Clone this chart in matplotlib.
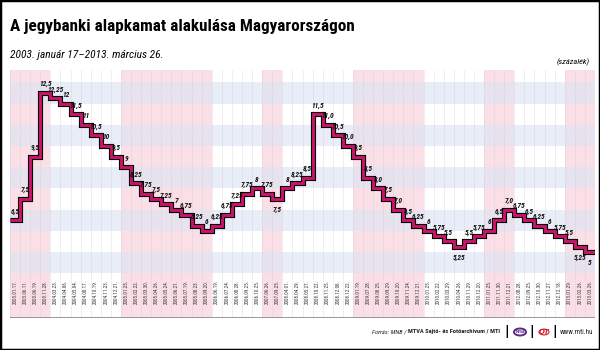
import numpy as np
import matplotlib
matplotlib.use('Agg')
import matplotlib.pyplot as plt
import matplotlib.patheffects as pe
from matplotlib.patches import Circle, Rectangle

NARROW = ['Liberation Sans Narrow', 'Roboto Condensed', 'Liberation Sans', 'DejaVu Sans']

# alapkamat-döntések dátumai és az új kamatszintek
dates = ['2003.01.17.', '2003.06.11.', '2003.06.19.', '2003.11.28.',
         '2004.03.23.', '2004.04.06.', '2004.05.04.', '2004.08.17.', '2004.10.19.', '2004.11.23.', '2004.12.21.',
         '2005.01.25.', '2005.02.22.', '2005.03.30.', '2005.04.26.', '2005.05.24.', '2005.06.21.', '2005.07.19.',
         '2005.08.23.', '2005.09.20.',
         '2006.06.19.', '2006.07.24.', '2006.08.28.', '2006.09.25.', '2006.10.25.',
         '2007.06.26.', '2007.09.25.',
         '2008.04.01.', '2008.04.29.', '2008.05.27.', '2008.10.22.', '2008.11.25.', '2008.12.08.', '2008.12.22.',
         '2009.01.19.', '2009.07.28.', '2009.08.25.', '2009.09.29.', '2009.10.20.', '2009.11.24.', '2009.12.21.',
         '2010.01.25.', '2010.02.22.', '2010.03.29.', '2010.04.26.', '2010.11.29.', '2010.12.20.',
         '2011.01.25.', '2011.11.30.', '2011.12.21.',
         '2012.08.28.', '2012.09.25.', '2012.10.30.', '2012.11.27.', '2012.12.18.',
         '2013.01.29.', '2013.02.26.', '2013.03.26.']

rates = [6.5, 7.5, 9.5, 12.5,
         12.25, 12, 11.5, 11, 10.5, 10, 9.5,
         9, 8.25, 7.75, 7.5, 7.25, 7, 6.75, 6.25, 6,
         6.25, 6.75, 7.25, 7.75, 8,
         7.75, 7.5,
         8, 8.25, 8.5, 11.5, 11.0, 10.5, 10.0,
         9.5, 8.5, 8.0, 7.5, 7.0, 6.5, 6.25,
         6, 5.75, 5.5, 5.25, 5.5, 5.75,
         6, 6.5, 7.0,
         6.75, 6.5, 6.25, 6, 5.75,
         5.5, 5.25, 5]

# ezeknél a feliratnál kiírjuk a ",0"-t
keep_zero = {31, 33, 36, 38, 49}
# ezek a feliratok a vonal alá kerülnek
below = {26, 44, 56, 57}


def fmt(i, v):
    s = f'{v:.2f}'.rstrip('0').rstrip('.')
    if i in keep_zero and '.' not in s:
        s += '.0'
    return s.replace('.', ',')


n = len(rates)
x = np.arange(n)

fig = plt.figure(figsize=(6, 3.5), dpi=100)
fig.patch.set_facecolor('white')
ax = fig.add_axes([10 / 600, 32 / 350, 585 / 600, 248 / 350])
ax.set_xlim(-0.5, n - 0.5)
ax.set_ylim(1.887, 13.585)
ax.axis('off')

# évenkénti függőleges sávok
years = [d[:4] for d in dates]
for k, yr in enumerate(sorted(set(years))):
    idx = [i for i, y in enumerate(years) if y == yr]
    if k % 2 == 0:
        ax.axvspan(idx[0] - 0.5, idx[-1] + 0.5, color='#fbdfe6', lw=0, zorder=0)

# vízszintes sávok
for lo in [4, 6, 8, 10, 12]:
    ax.axhspan(lo, lo + 1, color='#dce4f3', alpha=0.65, lw=0, zorder=0.5)

for b in np.arange(n + 1) - 0.5:
    ax.axvline(b, color='#c9c9d2', lw=0.4, ls=(0, (1.5, 1.5)), zorder=1)

ax.axhline(1.887, color='#8a8a8a', lw=1.2, zorder=2)

edges = np.arange(n + 1) - 0.5
xs = np.repeat(edges, 2)[1:-1]
ys = np.repeat(rates, 2)
ax.plot(xs, ys, color='#c8146a', lw=2.1, solid_joinstyle='miter', solid_capstyle='butt', zorder=3,
        path_effects=[pe.Stroke(linewidth=3.7, foreground='black'), pe.Normal()])

for i, v in enumerate(rates):
    dy = -5 if i in below else 4
    ax.annotate(fmt(i, v), (i, v), xytext=(0, dy), textcoords='offset points',
                ha='center', va='top' if i in below else 'bottom',
                fontsize=5.3, fontstyle='italic', fontweight='bold', family=NARROW,
                color='#111111', zorder=4)

for i, d in enumerate(dates):
    ax.text(i, 0.153, d, transform=ax.get_xaxis_transform(), rotation=90,
            ha='center', va='top', fontsize=3.6, color='#333333', family=NARROW, zorder=2)

fig.text(10 / 600, 1 - 31 / 350, 'A jegybanki alapkamat alakulása Magyarországon',
         fontsize=12.3, fontweight='bold', family=NARROW, color='black', va='baseline')
fig.text(10 / 600, 1 - 58 / 350, '2003. január 17–2013. március 26.',
         fontsize=8.2, fontstyle='italic', family=NARROW, color='black', va='baseline')
fig.text(590 / 600, 1 - 64 / 350, '(százalék)', fontsize=6, fontstyle='italic', family=NARROW,
         ha='right', va='baseline')

# forrás és logók
fy = 1 - 332 / 350
fig.text(408 / 600, fy, 'Forrás: MNB / ', fontsize=4.6, fontstyle='italic', family=NARROW,
         ha='right', va='center', color='#222222')
fig.text(408 / 600, fy, 'MTVA Sajtó- és Fotóarchívum / MTI', fontsize=4.6, fontweight='bold',
         family=NARROW, ha='left', va='center', color='#222222')
for bx in [507, 532, 555]:
    fig.text(bx / 600, fy, '|', fontsize=9, fontweight='bold', ha='center', va='center')
fig.patches.append(Circle((520 / 600, fy), 6 / 600, transform=fig.transFigure,
                          facecolor='white', edgecolor='#5b2a86', lw=1.4))
fig.text(520 / 600, fy, 'MTVA', fontsize=2.2, fontweight='bold', ha='center', va='center', color='#5b2a86')
fig.patches.append(Circle((544 / 600, fy), 5 / 600, transform=fig.transFigure,
                          facecolor='none', edgecolor='#d0202a', lw=0.8))
fig.text(544 / 600, fy, 'OT', fontsize=5, fontweight='bold', fontstyle='italic', ha='center',
         va='center', color='#d0202a')
fig.text(593 / 600, fy, 'www.mti.hu', fontsize=5, family=NARROW, ha='right', va='center',
         color='#222222')

fig.patches.append(Rectangle((0, 0), 1, 1, transform=fig.transFigure, fill=False,
                             edgecolor='black', lw=2.5))

fig.savefig('out.png', dpi=100)
